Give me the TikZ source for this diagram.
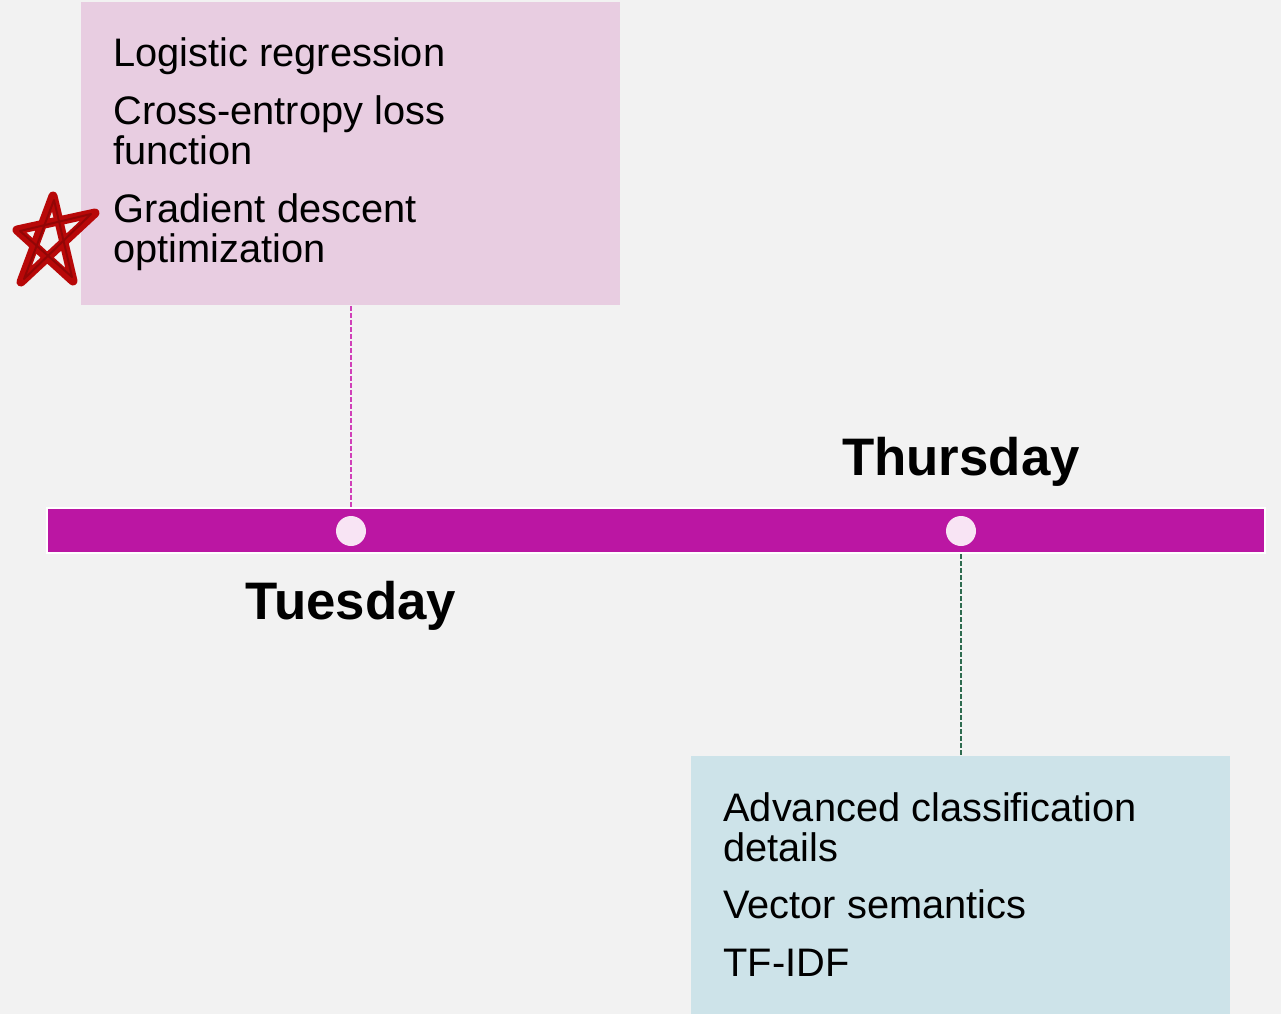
\documentclass[tikz,border=0pt]{standalone}
\usepackage{fontspec}
\setmainfont{Liberation Sans}
\usepackage{tikz}
\definecolor{bg}{HTML}{F2F2F2}
\definecolor{barcol}{HTML}{BB16A3}
\definecolor{dotcol}{HTML}{F8E4F4}
\definecolor{pinkbox}{HTML}{E8CDE1}
\definecolor{bluebox}{HTML}{CDE3E9}
\definecolor{pinkline}{HTML}{D040B8}
\definecolor{greenline}{HTML}{2E6B4F}
\definecolor{starred}{HTML}{B80808}
\tikzset{
	day/.style={font=\fontsize{26.4}{26.4}\selectfont\bfseries,anchor=base,inner sep=0pt},
	topic/.style={font=\fontsize{19.9}{20}\selectfont,align=left,anchor=north west,inner sep=0pt},
	pdot/.style={circle,inner sep=0pt,minimum size=15pt,fill=dotcol},
	box/.style 2 args={rectangle,inner sep=0pt,fill=#1,minimum width=#2,anchor=north west}
}

\begin{document}
\begin{tikzpicture}[x=0.5pt,y=-0.5pt]
					\fill[bg] (0,0) rectangle (1281,1014);
					\useasboundingbox (0,0) rectangle (1281,1014);

					% boxes
					\node [box={pinkbox}{269.5pt},minimum height=151.5pt] (tueBox) at (81,2) {};
					\node [box={bluebox}{269.5pt},minimum height=129pt] (thuBox) at (691,756) {};
					\node [topic] (tueText) at (113,37)
						{Logistic regression\\[9pt]Cross-entropy loss\\function\\[9pt]Gradient descent\\optimization};
					\node [topic] (thuText) at (723,792)
						{Advanced classification\\details\\[8.5pt]Vector semantics\\[9pt]TF-IDF};

					% timeline
					\node [rectangle,inner sep=0pt,fill=barcol,draw=white,line width=1pt,
						minimum width=609pt,minimum height=22.5pt] (bar) at (656,530.5) {};
					\node [pdot] (tue) at (351,531) {};
					\node [pdot] (thu) at (961,531) {};
					\node [day] (tueLabel) at (351,619) {Tuesday};
					\node [day] (thuLabel) at (961,475) {Thursday};

					\draw[pinkline,line width=0.6pt,dash pattern=on 2.5pt off 1pt]
						(tueBox.south -| tue) -- (tue |- bar.north);
					\draw[greenline,line width=0.6pt,dash pattern=on 2.5pt off 1pt]
						(thu |- bar.south) -- (thu |- thuBox.north);

					% hand drawn star
					\draw[starred,line width=4.5pt,line join=round,line cap=round]
						(53,196) -- (73,281) -- (17,230) -- (95,213) -- (21,282) -- cycle;
					\draw[starred!60!black,line width=1pt,line join=round,line cap=round,opacity=0.5]
						(54,200) -- (72,277) -- (20,231) -- (91,214) -- (24,279) -- cycle;
				\end{tikzpicture}
\end{document}
